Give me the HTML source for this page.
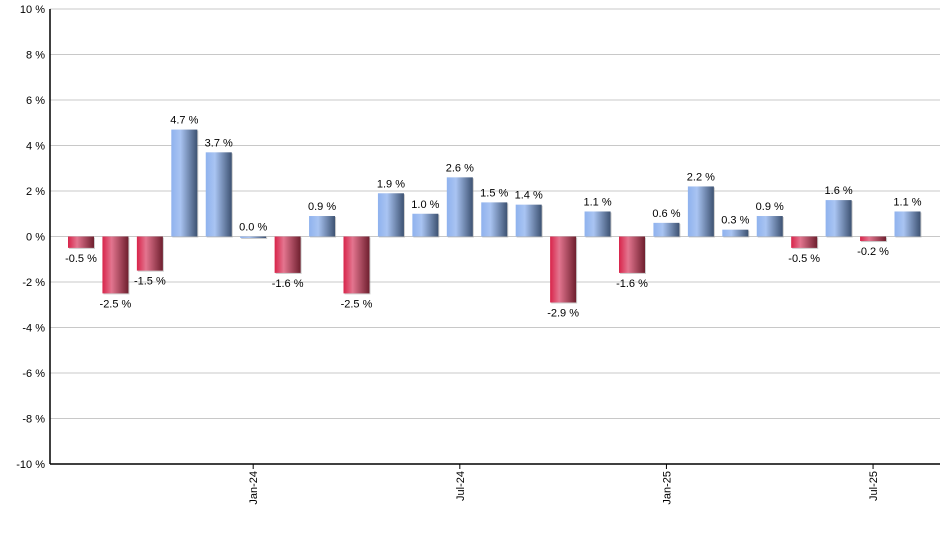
<!DOCTYPE html>
<html><head><meta charset="utf-8"><style>
body{margin:0;background:#fff;}
svg{display:block;font-family:"Liberation Sans",sans-serif;}
</style></head><body>
<svg id="chart" width="940" height="550">
<defs>
<linearGradient id="gpos" x1="0" x2="1" y1="0" y2="0">
<stop offset="0" stop-color="#8fb2ee"/><stop offset="0.35" stop-color="#a9c4f2"/><stop offset="1" stop-color="#3d5272"/>
</linearGradient>
<linearGradient id="gneg" x1="0" x2="1" y1="0" y2="0">
<stop offset="0" stop-color="#d8244a"/><stop offset="0.35" stop-color="#e3758f"/><stop offset="1" stop-color="#6e1f2e"/>
</linearGradient>
</defs>
<g id="grid"></g><g id="bars"></g><g id="labels"></g><g id="axes"></g>
</svg>
<script>
const months=["Aug-23","Sep-23","Oct-23","Nov-23","Dec-23","Jan-24","Feb-24","Mar-24","Apr-24","May-24","Jun-24","Jul-24","Aug-24","Sep-24","Oct-24","Nov-24","Dec-24","Jan-25","Feb-25","Mar-25","Apr-25","May-25","Jun-25","Jul-25","Aug-25"];
const values=[-0.5,-2.5,-1.5,4.7,3.7,0.0,-1.6,0.9,-2.5,1.9,1.0,2.6,1.5,1.4,-2.9,1.1,-1.6,0.6,2.2,0.3,0.9,-0.5,1.6,-0.2,1.1];
const yTicks=[-10,-8,-6,-4,-2,0,2,4,6,8,10];
const xTickLabels=["Jan-24","Jul-24","Jan-25","Jul-25"];
const NS="http://www.w3.org/2000/svg";
const L=50,R=940,T=9,B=464;
function y(v){return T+(10-v)/20*(B-T);}
function xc(i){return 81+i*(907.5-81)/(months.length-1);}
function mk(tag,attrs,parent){const e=document.createElementNS(NS,tag);for(const k in attrs)e.setAttribute(k,attrs[k]);parent.appendChild(e);return e;}
const grid=document.getElementById('grid'),bars=document.getElementById('bars'),labels=document.getElementById('labels'),axes=document.getElementById('axes');
yTicks.forEach(t=>{
  const l=mk('line',{x1:L,x2:R,y1:y(t),y2:y(t),stroke:'#c8c8c8','stroke-width':1},grid);
  
  
  const tx=mk('text',{x:45,y:y(t)+4,'text-anchor':'end','font-size':11,fill:'#000'},axes);
  tx.textContent=t+' %';
  
  
});
values.forEach((v,i)=>{
  const cx=xc(i),w=26,y0=y(0),y1=y(v);
  const top=Math.min(y0,y1),h=Math.max(Math.abs(y1-y0),1.5);
  const sh=mk('rect',{x:cx-w/2+1,y:top+1,width:w,height:h,fill:'#999','opacity':0.5},bars);
  
  
  const r=mk('rect',{x:cx-w/2,y:top,width:w,height:h,fill:v>=0?'url(#gpos)':'url(#gneg)'},bars);
  
  
  const ly=v>=0?y1-6:y1+14;
  const t=mk('text',{x:cx,y:ly,'text-anchor':'middle','font-size':11,fill:'#000'},labels);
  t.textContent=v.toFixed(1)+' %';
  
  
});
const ya=mk('line',{x1:L,x2:L,y1:T,y2:B,stroke:'#000','stroke-width':1.5},axes);


const xa=mk('line',{x1:L,x2:R,y1:B,y2:B,stroke:'#000','stroke-width':1.5},axes);


xTickLabels.forEach(lab=>{
  const i=months.indexOf(lab),x=xc(i);
  const tk=mk('line',{x1:x,x2:x,y1:B,y2:B+5,stroke:'#000'},axes);
  
  
  const t=mk('text',{x:0,y:0,'text-anchor':'end','font-size':11,fill:'#000',transform:`translate(${x+4},${B+7}) rotate(-90)`},axes);
  t.textContent=lab;
  
  
});
</script>
</body></html>
